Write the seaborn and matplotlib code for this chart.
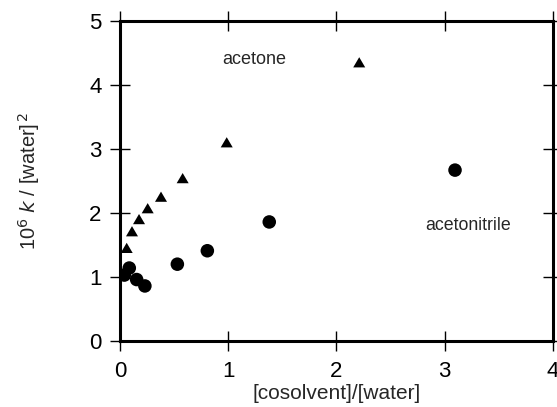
import numpy as np
import pandas as pd
import matplotlib
matplotlib.use("Agg")
import matplotlib.pyplot as plt
import seaborn as sns

# acetone (triangles)
acetone_x = [0.062, 0.111, 0.176, 0.256, 0.379, 0.579, 0.986, 2.21]
acetone_y = [1.45, 1.71, 1.90, 2.07, 2.25, 2.54, 3.10, 4.35]

# acetonitrile (circles)
acetonitrile_x = [0.04, 0.086, 0.154, 0.23, 0.53, 0.807, 1.379, 3.095]
acetonitrile_y = [1.03, 1.14, 0.96, 0.86, 1.20, 1.41, 1.86, 2.67]

x_ticks = [0, 1, 2, 3, 4]
y_ticks = [0, 1, 2, 3, 4, 5]

df = pd.concat([
    pd.DataFrame({'ratio': acetone_x, 'kw': acetone_y, 'solvent': 'acetone'}),
    pd.DataFrame({'ratio': acetonitrile_x, 'kw': acetonitrile_y, 'solvent': 'acetonitrile'}),
])

sns.set_style("white")
plt.rcParams['font.family'] = ['Liberation Sans', 'DejaVu Sans']

# slightly flattened triangle, as in the scan
tri = [(-1, -0.8), (1, -0.8), (0, 0.9), (-1, -0.8)]

fig = plt.figure(figsize=(5.57, 4.07), dpi=100)
ax = fig.add_axes([0.2154, 0.1622, 0.7774, 0.7862])

sns.scatterplot(data=df[df.solvent == 'acetone'], x='ratio', y='kw', marker=tri,
                color='black', s=75, edgecolor='none', ax=ax, legend=False)
sns.scatterplot(data=df[df.solvent == 'acetonitrile'], x='ratio', y='kw', marker='o',
                color='black', s=95, edgecolor='none', ax=ax, legend=False)

ax.set_xlim(0, 4)
ax.set_ylim(0, 5)
ax.set_xticks(x_ticks)
ax.set_yticks(y_ticks)
ax.tick_params(direction='inout', length=14.4, width=1, bottom=True, left=True,
               top=True, right=True, labelsize=16, colors='black')
ax.tick_params(axis='x', pad=7)
ax.tick_params(axis='y', pad=6)
for side in ax.spines.values():
    side.set_linewidth(2.2)
    side.set_color('black')

ax.set_xlabel('[cosolvent]/[water]', fontsize=15, labelpad=2)
ax.set_ylabel(r'10$^6$ $\it{k}$ / [water]$^{\,2}$', fontsize=14.5)
ax.yaxis.set_label_coords(-0.18, 0.5)

ax.text(1.244, 4.40, 'acetone', fontsize=13, ha='center', va='center')
ax.text(3.212, 1.81, 'acetonitrile', fontsize=12.8, ha='center', va='center')

fig.savefig('out.png', dpi=100)
